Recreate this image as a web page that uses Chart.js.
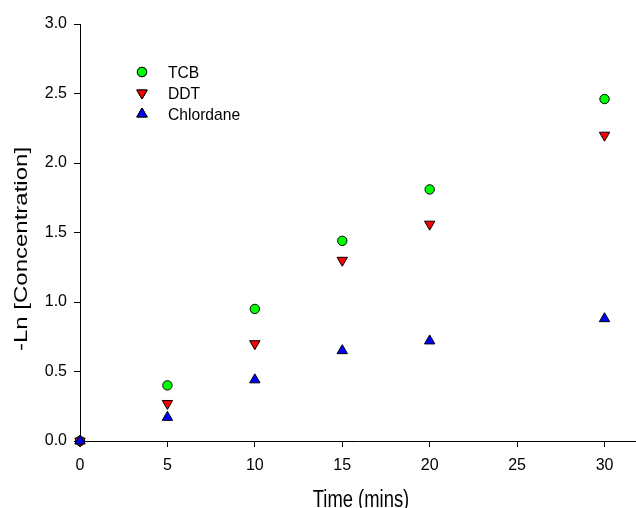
<!DOCTYPE html>
<html>
<head>
<meta charset="utf-8">
<script src="https://cdn.jsdelivr.net/npm/chart.js@4/dist/chart.umd.min.js"></script>
<style>
  html, body { margin: 0; padding: 0; background: #fff; }
  #wrap { width: 636px; height: 508px; }
</style>
</head>
<body>
<div id="wrap"><canvas id="chart" width="636" height="508"></canvas></div>
<script>
// Données
const times = [0, 5, 10, 15, 20, 30];
const tcb = [0, 0.40, 0.95, 1.44, 1.81, 2.46];
const ddt = [0, 0.27, 0.70, 1.30, 1.56, 2.20];
const chlordane = [0, 0.17, 0.44, 0.65, 0.72, 0.88];

const xTicks = [0, 5, 10, 15, 20, 25, 30];
const yTicks = [0, 0.5, 1.0, 1.5, 2.0, 2.5, 3.0];

const xTitle = "Time (mins)";
const yTitle = "-Ln [Concentration]";

const FONT = "'Liberation Sans', Arial, sans-serif";

function toPoints(values) {
    return times.map((t, i) => ({ x: t, y: values[i] }));
}

// Texte un peu étroit, comme dans l'original
function narrowText(ctx, text, x, y, size, squeeze, rotate) {
    ctx.save();
    ctx.translate(x, y);
    if (rotate) ctx.rotate(-Math.PI / 2);
    if (rotate) ctx.scale(1, squeeze); else ctx.scale(squeeze, 1);
    ctx.font = size + "px " + FONT;
    ctx.fillStyle = "#000";
    ctx.fillText(text, 0, 0);
    ctx.restore();
}

// Légende et titres des axes dessinés à la main
const decorPlugin = {
    id: "decor",
    afterDraw(chart) {
        const ctx = chart.ctx;
        const items = chart.data.datasets;
        ctx.save();
        ctx.textBaseline = "middle";
        ctx.textAlign = "left";
        items.forEach((ds, i) => {
            const y = 72 + i * 21;
            Chart.helpers.drawPoint(ctx, {
                pointStyle: ds.pointStyle,
                radius: ds.pointRadius,
                rotation: ds.rotation || 0,
                borderWidth: 1
            }, 142, y);
            ctx.fillStyle = ds.backgroundColor;
            ctx.strokeStyle = "#000";
            ctx.lineWidth = 1;
            ctx.fill();
            ctx.stroke();
            narrowText(ctx, ds.label, 168, y + 1, 17, 0.92, false);
        });

        ctx.textAlign = "center";
        ctx.textBaseline = "alphabetic";
        const area = chart.chartArea;
        narrowText(ctx, xTitle, (area.left + area.right) / 2 + 3, 507, 23, 0.8, false);
        ctx.textBaseline = "middle";
        narrowText(ctx, yTitle, 22, 249, 24, 0.8, true);
        ctx.restore();
    }
};

new Chart(document.getElementById("chart").getContext("2d"), {
    type: "scatter",
    data: {
        datasets: [
            {
                label: "TCB",
                data: toPoints(tcb),
                order: 3,
                pointStyle: "circle",
                pointRadius: 4.7,
                backgroundColor: "#00ff00",
                borderColor: "#000",
                borderWidth: 1
            },
            {
                label: "DDT",
                data: toPoints(ddt),
                order: 2,
                pointStyle: "triangle",
                rotation: 180,
                pointRadius: 6,
                backgroundColor: "#ff0000",
                borderColor: "#000",
                borderWidth: 1
            },
            {
                label: "Chlordane",
                data: toPoints(chlordane),
                order: 1,
                pointStyle: "triangle",
                pointRadius: 6,
                backgroundColor: "#0000ff",
                borderColor: "#000",
                borderWidth: 1
            }
        ]
    },
    options: {
        responsive: false,
        animation: false,
        clip: false,
        layout: { autoPadding: false, padding: { top: 24, right: 0, left: 0, bottom: 0 } },
        plugins: {
            legend: { display: false },
            tooltip: { enabled: false }
        },
        elements: { point: { hoverRadius: 5 } },
        scales: {
            x: {
                type: "linear",
                min: 0,
                max: 31.8,
                afterBuildTicks: (axis) => { axis.ticks = xTicks.map(v => ({ value: v })); },
                afterFit: (axis) => {
                    axis.height = 67;
                    axis.paddingLeft = 0;
                    axis.paddingRight = 0;
                },
                border: { display: true, color: "#000", width: 1 },
                grid: { display: true, drawOnChartArea: false, drawTicks: true, tickLength: 6, color: "#000" },
                ticks: {
                    color: "#000",
                    font: { family: FONT, size: 16 },
                    padding: 9,
                    maxRotation: 0
                },
                title: { display: false }
            },
            y: {
                type: "linear",
                min: 0,
                max: 3,
                afterBuildTicks: (axis) => { axis.ticks = yTicks.map(v => ({ value: v })); },
                afterFit: (axis) => {
                    axis.width = 80;
                    axis.paddingTop = 0;
                    axis.paddingBottom = 0;
                },
                border: { display: true, color: "#000", width: 1 },
                grid: { display: true, drawOnChartArea: false, drawTicks: true, tickLength: 6, color: "#000" },
                ticks: {
                    color: "#000",
                    font: { family: FONT, size: 16 },
                    padding: 7,
                    callback: (v) => Number(v).toFixed(1)
                },
                title: { display: false }
            }
        }
    },
    plugins: [decorPlugin]
});
</script>
</body>
</html>
